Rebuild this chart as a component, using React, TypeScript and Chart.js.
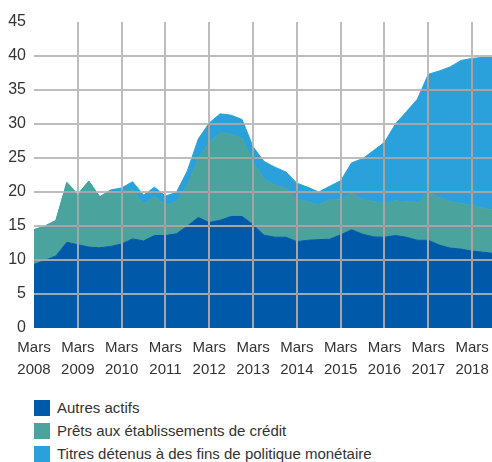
import React, { useEffect, useRef } from "react";
import { Chart, registerables } from "chart.js";

Chart.register(...registerables);

const years = [2008, 2009, 2010, 2011, 2012, 2013, 2014, 2015, 2016, 2017, 2018];
const quarterMonths = ["Mars", "Juin", "Sept.", "Déc."];
const categories: string[] = [];
years.forEach((y) => quarterMonths.forEach((m) => categories.push(`${m} ${y}`)));
categories.length = 43; // Mars 2008 .. Sept. 2018

const seriesLabels = [
  "Autres actifs",
  "Prêts aux établissements de crédit",
  "Titres détenus à des fins de politique monétaire",
];
const seriesColors = ["#0059A9", "#4AA39D", "#2BA1DB"];

const autresActifs = [
  9.35, 9.95, 10.6, 12.6, 12.25, 11.9, 11.8, 12.0, 12.35, 13.1, 12.8, 13.6,
  13.6, 13.85, 15.0, 16.25, 15.5, 15.85, 16.4, 16.4, 15.2, 13.65, 13.35, 13.35,
  12.7, 12.9, 13.0, 13.05, 13.7, 14.45, 13.8, 13.4, 13.35, 13.6, 13.35, 12.9,
  12.9, 12.2, 11.75, 11.6, 11.3, 11.15, 10.95,
];
const pretsEtablissements = [
  5.1, 5.05, 5.2, 8.8, 7.4, 9.7, 7.5, 8.1, 7.75, 7.2, 5.45, 5.75,
  4.45, 4.7, 6.0, 8.65, 11.75, 12.85, 12.1, 11.5, 9.2, 8.25, 7.65, 7.2,
  6.3, 5.65, 5.1, 5.85, 5.15, 5.35, 5.1, 5.2, 4.95, 5.1, 5.2, 5.55,
  7.1, 7.0, 6.85, 6.7, 6.7, 6.5, 6.35,
];
const titresPolitique = [
  0, 0, 0, 0, 0, 0, 0, 0.2, 0.5, 1.2, 1.3, 1.35,
  1.35, 1.4, 2.1, 2.9, 2.9, 2.8, 2.8, 2.75, 2.25, 2.6, 2.65, 2.4,
  2.3, 2.15, 1.9, 1.95, 2.8, 4.5, 6.0, 7.5, 9.0, 11.3, 13.25, 15.2,
  17.3, 18.6, 19.8, 21.05, 21.65, 22.15, 22.5,
];
const seriesValues = [autresActifs, pretsEtablissements, titresPolitique];

const yTicks = [0, 5, 10, 15, 20, 25, 30, 35, 40, 45];
const Y_MAX = 45;

const FONT = "'Liberation Sans', Arial, sans-serif";
const TEXT = "#333333";
const GRID_ON_WHITE = "#bdbdbd";
const GRID_ON_AREA = "#8e8e8e";

// Grid drawn over the areas (as in the reference): light grey on white, darker grey on fills.
const overGridPlugin = {
  id: "overGrid",
  afterDatasetsDraw(chart: any) {
    const ctx = chart.ctx;
    const area = chart.chartArea;
    const xs = chart.scales.x;
    const ys = chart.scales.y;
    const yPix = (v: number) => ys.getPixelForValue(v);
    const totals = autresActifs.map(
      (v, i) => v + pretsEtablissements[i] + titresPolitique[i]
    );
    const hLines = yTicks
      .filter((v) => v > 0 && v < Y_MAX)
      .map((v) => Math.round(yPix(v)));
    const vLines = years
      .slice(1)
      .map((_y, k) => Math.round(xs.getPixelForValue((k + 1) * 4)));

    const paint = (color: string, w: number) => {
      ctx.fillStyle = color;
      hLines.forEach((y) => ctx.fillRect(area.left, y - w / 2, area.right - area.left, w));
      vLines.forEach((x) => ctx.fillRect(x - w / 2, area.top, w, area.bottom - area.top));
    };

    ctx.save();
    paint(GRID_ON_WHITE, 2);
    ctx.beginPath();
    ctx.moveTo(xs.getPixelForValue(0), yPix(0));
    totals.forEach((t, i) => ctx.lineTo(xs.getPixelForValue(i), yPix(t)));
    ctx.lineTo(xs.getPixelForValue(totals.length - 1), yPix(0));
    ctx.closePath();
    ctx.clip();
    paint(GRID_ON_AREA, 1);
    ctx.restore();
  },
};

export default function App() {
  const ref = useRef<HTMLCanvasElement | null>(null);

  useEffect(() => {
    document.body.style.margin = "0";
    const canvas = ref.current;
    if (!canvas) return;
    Chart.defaults.font.family = FONT;
    Chart.defaults.color = TEXT;
    const chart = new Chart(canvas, {
      type: "line",
      data: {
        labels: categories,
        datasets: seriesValues.map((vals, i) => ({
          label: seriesLabels[i],
          data: vals,
          backgroundColor: seriesColors[i],
          borderColor: seriesColors[i],
          borderWidth: 1,
          pointRadius: 0,
          tension: 0,
          fill: i === 0 ? "origin" : "-1",
        })),
      },
      plugins: [overGridPlugin],
      options: {
        animation: false,
        responsive: false,
        devicePixelRatio: 1,
        layout: { padding: { top: 22, right: 0, bottom: 0, left: 0 } },
        plugins: { legend: { display: false }, tooltip: { enabled: false } },
        scales: {
          x: {
            offset: false,
            border: { display: false },
            grid: { display: false, drawTicks: false },
            ticks: {
              autoSkip: false,
              maxRotation: 0,
              minRotation: 0,
              padding: 9,
              color: TEXT,
              font: { size: 15, family: FONT, lineHeight: 1.45 },
              callback: (_v: any, idx: number) =>
                idx % 4 === 0 ? ["Mars", String(years[idx / 4])] : "",
            },
            afterFit: (scale: any) => {
              scale.height = 52;
              scale.paddingRight = 0;
              scale.paddingLeft = 0;
            },
          },
          y: {
            stacked: true,
            min: 0,
            max: Y_MAX,
            border: { display: false },
            grid: { display: false, drawTicks: false },
            afterBuildTicks: (scale: any) => {
              scale.ticks = yTicks.map((v) => ({ value: v }));
            },
            ticks: {
              padding: 8,
              color: TEXT,
              font: { size: 16, family: FONT },
            },
            afterFit: (scale: any) => {
              scale.width = 34;
            },
          },
        },
      },
    });
    return () => chart.destroy();
  }, []);

  return (
    <div
      style={{
        position: "relative",
        width: 492,
        height: 462,
        overflow: "hidden",
        background: "#fff",
        fontFamily: FONT,
      }}
    >
      <canvas
        ref={ref}
        width={494}
        height={380}
        style={{ display: "block", width: 494, height: 380 }}
      />
      {seriesLabels.map((lab, i) => (
        <div
          key={lab}
          style={{
            position: "absolute",
            left: 34,
            top: 400 + i * 22.8,
            height: 16,
            display: "flex",
            alignItems: "center",
            whiteSpace: "nowrap",
          }}
        >
          <span
            style={{
              display: "inline-block",
              width: 16,
              height: 16,
              background: seriesColors[i],
              marginRight: 7,
            }}
          />
          <span style={{ fontSize: 15, color: TEXT, lineHeight: "16px" }}>{lab}</span>
        </div>
      ))}
    </div>
  );
}
